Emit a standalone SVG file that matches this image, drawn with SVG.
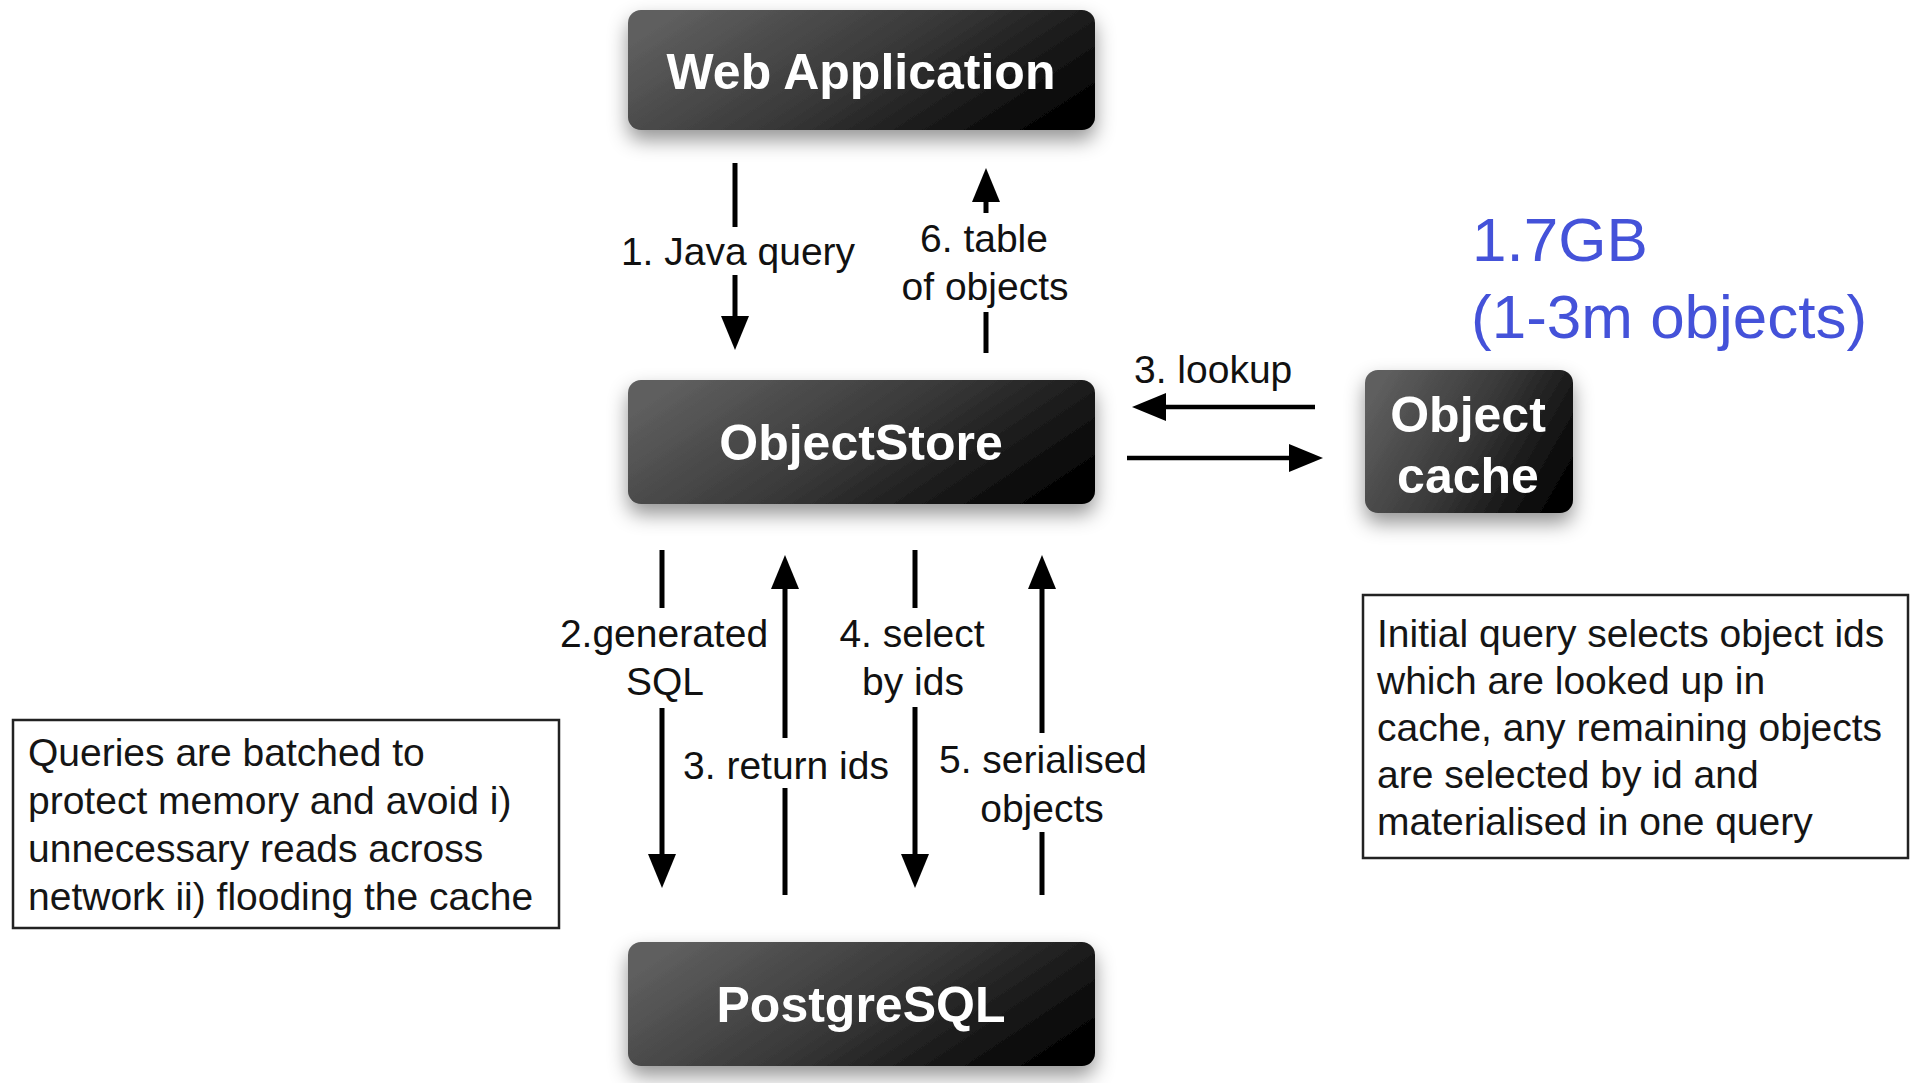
<svg xmlns="http://www.w3.org/2000/svg" width="1915" height="1083" viewBox="0 0 1915 1083">
  <defs>
    <linearGradient id="boxGrad" x1="0" y1="0.3" x2="1" y2="0.7">
      <stop offset="0" stop-color="#5e5e5e"/>
      <stop offset="0.5" stop-color="#383838"/>
      <stop offset="1" stop-color="#030303"/>
    </linearGradient>
    <filter id="shadow" x="-20%" y="-30%" width="140%" height="180%">
      <feDropShadow dx="0" dy="10" stdDeviation="10" flood-color="#000" flood-opacity="0.42"/>
    </filter>
    <marker id="head" markerUnits="userSpaceOnUse" markerWidth="36" markerHeight="30" refX="0" refY="14" orient="auto" viewBox="0 0 36 28">
      <path d="M0,0 L34,14 L0,28 z" fill="#000"/>
    </marker>
    <style>
      .box { fill: url(#boxGrad); filter: url(#shadow); }
      .boxText { font-family: "Liberation Sans", Arial, sans-serif; font-weight: bold; font-size: 50px; fill: #fff; text-anchor: middle; }
      .lbl { font-family: "Liberation Sans", Arial, sans-serif; font-size: 39px; fill: #111; }
      .mid { text-anchor: middle; }
      .note { fill: #fff; stroke: #222; stroke-width: 2.5; }
      .noteText { font-family: "Liberation Sans", Arial, sans-serif; font-size: 39px; fill: #151515; }
      .blue { font-family: "Liberation Sans", Arial, sans-serif; font-size: 62px; fill: #4452d9; }
      .ln { stroke: #000; stroke-width: 5; fill: none; }
      .lnh { stroke: #000; stroke-width: 4.5; fill: none; }
    </style>
  </defs>
  <rect width="1915" height="1083" fill="#fff"/>

  <g id="web-application">
    <rect class="box" x="628" y="10" width="467" height="120" rx="13"/>
    <text class="boxText" x="861" y="89">Web Application</text>
  </g>

  <g id="objectstore">
    <rect class="box" x="628" y="380" width="467" height="124" rx="13"/>
    <text class="boxText" x="861" y="460">ObjectStore</text>
  </g>

  <g id="postgresql">
    <rect class="box" x="628" y="942" width="467" height="124" rx="13"/>
    <text class="boxText" x="861" y="1022">PostgreSQL</text>
  </g>

  <g id="object-cache">
    <rect class="box" x="1365" y="370" width="208" height="143" rx="13"/>
    <text class="boxText" x="1468" y="432">Object</text>
    <text class="boxText" x="1468" y="493">cache</text>
  </g>

  <g id="cache-size">
    <text class="blue" x="1472" y="261">1.7GB</text>
    <text class="blue" x="1471" y="338">(1-3m objects)</text>
  </g>

  <g id="note-batching">
    <rect class="note" x="13" y="720" width="546" height="208"/>
    <text class="noteText" x="28" y="766">Queries are batched to</text>
    <text class="noteText" x="28" y="814">protect memory and avoid i)</text>
    <text class="noteText" x="28" y="862">unnecessary reads across</text>
    <text class="noteText" x="28" y="910">network ii) flooding the cache</text>
  </g>

  <g id="note-initial-query">
    <rect class="note" x="1363" y="595" width="545" height="263"/>
    <text class="noteText" x="1377" y="647">Initial query selects object ids</text>
    <text class="noteText" x="1377" y="694">which are looked up in</text>
    <text class="noteText" x="1377" y="741">cache, any remaining objects</text>
    <text class="noteText" x="1377" y="788">are selected by id and</text>
    <text class="noteText" x="1377" y="835">materialised in one query</text>
  </g>

  <g id="connectors">
    <!-- 1. Java query -->
    <line class="ln" x1="735" y1="163" x2="735" y2="227"/>
    <line class="ln" x1="735" y1="275" x2="735" y2="316" marker-end="url(#head)"/>
    <text class="lbl mid" x="738" y="265" font-size="41">1. Java query</text>

    <!-- 6. table of objects -->
    <line class="ln" x1="986" y1="213" x2="986" y2="202" marker-end="url(#head)"/>
    <line class="ln" x1="986" y1="312" x2="986" y2="353"/>
    <text class="lbl mid" x="984" y="252">6. table</text>
    <text class="lbl mid" x="985" y="300">of objects</text>

    <!-- 3. lookup -->
    <line class="lnh" x1="1315" y1="407" x2="1166" y2="407" marker-end="url(#head)"/>
    <line class="lnh" x1="1127" y1="458" x2="1289" y2="458" marker-end="url(#head)"/>
    <text class="lbl" x="1134" y="383">3. lookup</text>

    <!-- 2. generated SQL -->
    <line class="ln" x1="662" y1="550" x2="662" y2="608"/>
    <line class="ln" x1="662" y1="708" x2="662" y2="854" marker-end="url(#head)"/>
    <text class="lbl mid" x="664" y="647">2.generated</text>
    <text class="lbl mid" x="665" y="695">SQL</text>

    <!-- 3. return ids -->
    <line class="ln" x1="785" y1="738" x2="785" y2="589" marker-end="url(#head)"/>
    <line class="ln" x1="785" y1="788" x2="785" y2="895"/>
    <text class="lbl mid" x="786" y="779">3. return ids</text>

    <!-- 4. select by ids -->
    <line class="ln" x1="915" y1="550" x2="915" y2="608"/>
    <line class="ln" x1="915" y1="707" x2="915" y2="854" marker-end="url(#head)"/>
    <text class="lbl mid" x="912" y="647">4. select</text>
    <text class="lbl mid" x="913" y="695">by ids</text>

    <!-- 5. serialised objects -->
    <line class="ln" x1="1042" y1="733" x2="1042" y2="589" marker-end="url(#head)"/>
    <line class="ln" x1="1042" y1="832" x2="1042" y2="895"/>
    <text class="lbl mid" x="1043" y="773">5. serialised</text>
    <text class="lbl mid" x="1042" y="822">objects</text>
  </g>
</svg>
